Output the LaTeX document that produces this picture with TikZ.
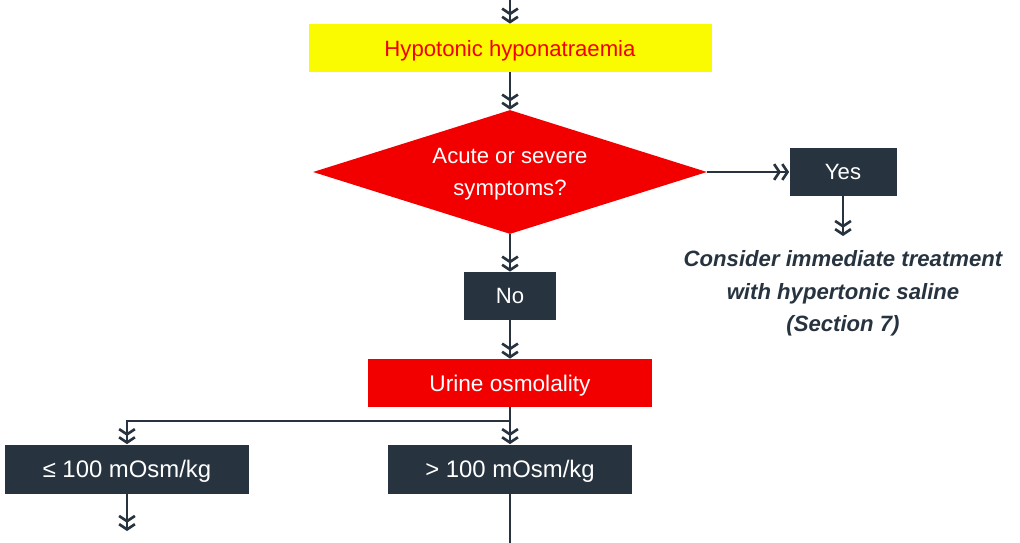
\documentclass[tikz,border=0pt]{standalone}
\usepackage{fontspec}
\setmainfont{Liberation Sans}
\usetikzlibrary{shapes.geometric, arrows.meta}
\definecolor{navy}{HTML}{27333F}
\definecolor{hired}{HTML}{F20000}
\definecolor{hiyellow}{HTML}{FAFA00}
\begin{document}
\begin{tikzpicture}[x=0.02cm, y=-0.02cm,
    box/.style={rectangle, inner sep=0pt, text depth=0pt, font=\fontsize{12.6}{18}\selectfont},
    darkbox/.style={box, fill=navy, text=white},
    flow/.style={draw=navy, line width=1.1pt,
      -{Straight Barb[length=3pt,width=9pt,line width=1.5pt]Straight Barb[length=3pt,width=9pt,line width=1.5pt]}},
    plain/.style={draw=navy, line width=1.1pt}]
        \useasboundingbox (0,0) rectangle (1020,543);

        \coordinate (top) at (510,0);
        \node[box, fill=hiyellow, text=hired, minimum width=403*0.02cm, minimum height=48*0.02cm] (hypo) at (510,48) {Hypotonic hyponatraemia};
        \node[box, diamond, aspect=3.18, fill=hired, text=white, align=center, minimum width=394*0.02cm, minimum height=124*0.02cm] (acute) at (510,172) {Acute or severe\\symptoms?};
        \node[darkbox, minimum width=107*0.02cm, minimum height=48*0.02cm] (yes) at (843,172) {Yes};
        \node[box, text=navy, align=center, font=\fontsize{12.6}{18.7}\selectfont\bfseries\itshape] (treat) at (843,291) {Consider immediate treatment\\with hypertonic saline\\(Section 7)};
        \node[darkbox, minimum width=92*0.02cm, minimum height=48*0.02cm] (no) at (510,296) {No};
        \node[box, fill=hired, text=white, minimum width=284*0.02cm, minimum height=48*0.02cm, font=\fontsize{12.9}{18}\selectfont] (urine) at (510,383) {Urine osmolality};
        \node[darkbox, minimum width=244*0.02cm, minimum height=49*0.02cm, font=\fontsize{13.6}{18}\selectfont] (low) at (127,469) {≤ 100 mOsm/kg};
        \node[darkbox, minimum width=244*0.02cm, minimum height=49*0.02cm, font=\fontsize{13.6}{18}\selectfont] (high) at (510,469) {> 100 mOsm/kg};
        \coordinate (split) at (510,421);
        \coordinate (yesend) at (843,236);
        \coordinate (lowend) at (127,531);
        \coordinate (highend) at (510,543);

        \draw[flow] (top) -- (hypo);
        \draw[flow] (hypo) -- (acute);
        \draw[flow] (acute) -- (yes);
        \draw[flow] (yes) -- (yesend);
        \draw[flow] (acute) -- (no);
        \draw[flow] (no) -- (urine);
        \draw[flow] (urine) -- (high);
        \draw[flow] (split) -| (low);
        \draw[flow] (low) -- (lowend);
        \draw[plain] (high) -- (highend);
      \end{tikzpicture}
\end{document}
